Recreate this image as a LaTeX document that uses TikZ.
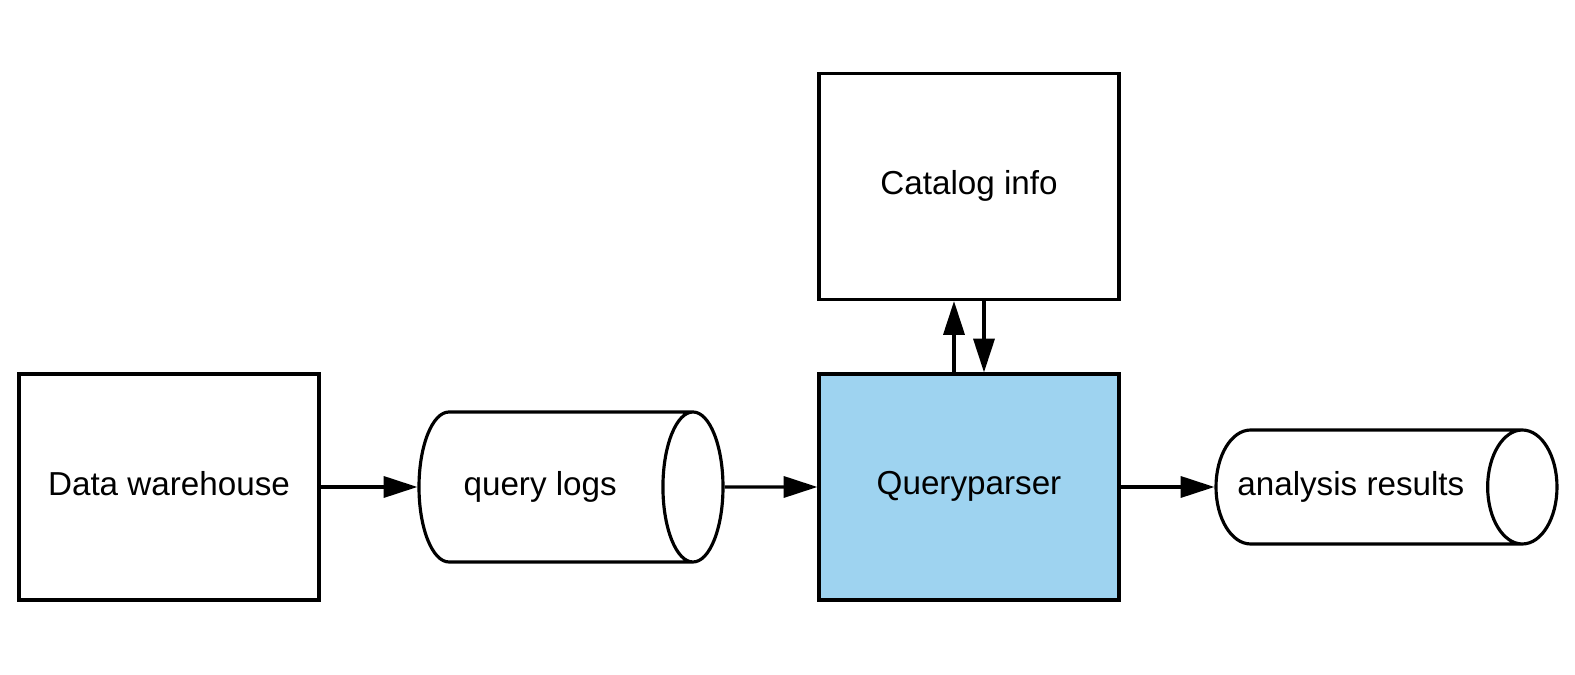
\documentclass[tikz,border=0pt]{standalone}
\usepackage{fontspec}
\setmainfont{Liberation Sans}
\usetikzlibrary{arrows.meta}
\usetikzlibrary{shapes.geometric}
\usetikzlibrary{positioning}
\tikzset{box/.style = {draw, line width = 0.9pt, minimum width = 3cm, minimum height = 2.26cm, inner sep = 0, text depth = 0.21em}}
\tikzset{store/.style = {draw, cylinder, anchor = shape center, line width = 0.9pt, inner sep = 0}}
\tikzset{flow/.style = {line width = 0.9pt, -{Triangle[length = 9.6pt, width = 6pt]}}}
\definecolor{qblue}{RGB}{158, 211, 240}

\begin{document}
\begin{tikzpicture}[font = \fontsize{9.45pt}{11pt}\selectfont]
      \useasboundingbox (0, 0) rectangle (15.75, 6.75);

      \node [box] (dw) at (1.69, 1.88) {Data warehouse};
      \node [store, aspect = 1.94, minimum height = 3.04cm, minimum width = 1.5cm] (qlogs) at (5.71, 1.88) {\hspace*{-0.3cm}query logs};
      \node [box, fill = qblue] (qp) at (9.69, 1.88) {Queryparser};
      \node [box] (catalog) at (9.69, 4.885) {Catalog info};
      \node [store, aspect = 2.24, minimum height = 3.41cm, minimum width = 1.14cm] (results) at (13.865, 1.88) {\hspace*{-0.35cm}analysis results};

      \draw [flow] (dw) -- (qlogs);
      \draw [flow] (qlogs) -- (qp);
      \draw [flow] (qp) -- (results);
      \draw [flow] ([xshift = -0.15cm] qp.north) -- ([xshift = -0.15cm] catalog.south);
      \draw [flow] ([xshift = 0.15cm] catalog.south) -- ([xshift = 0.15cm] qp.north);
    \end{tikzpicture}
\end{document}
